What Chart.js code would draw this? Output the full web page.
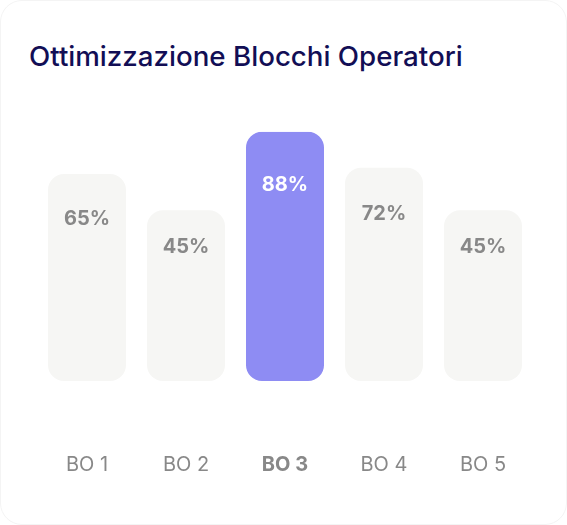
<!doctype html>
<html lang="it">
  <head>
    <meta charset="utf-8">
    <title>Ottimizzazione Blocchi Operatori</title>
    <style>
      * {
        margin: 0;
        padding: 0;
        box-sizing: border-box;
        font-family: 'Inter', sans-serif;
      }
      body {
        width: 567px;
        height: 525px;
        background: #ffffff;
        overflow: hidden;
      }
      .card {
        position: relative;
        width: 567px;
        height: 525px;
        border: 1px solid #f4f4f4;
        border-radius: 22px;
        background: #fff;
      }
      .card h2 {
        position: absolute;
        left: 28px;
        top: 38px;
        font-size: 27.7px;
        font-weight: 500;
        color: #120e55;
        white-space: nowrap;
      }
      #myChart {
        position: absolute;
        left: -1px;
        top: -1px;
      }
    </style>
  </head>
  <body>
    <div class="card">
      <h2>Ottimizzazione Blocchi Operatori</h2>
      <canvas id="myChart" width="567" height="525"></canvas>
    </div>
    <script src="https://cdn.jsdelivr.net/npm/chart.js"></script>
    <script>
    // data
    const labels = ['BO 1', 'BO 2', 'BO 3', 'BO 4', 'BO 5'];
    const percentLabels = [65, 45, 88, 72, 45];   // text shown in the bars
    const barHeights = [83, 68.5, 100, 85.5, 68.5]; // drawn height, % of tallest bar
    const activeIndex = 2;

    const GREY = '#f6f6f4';
    const PURPLE = '#8e8cf3';
    const TEXT_GREY = '#888888';

    // value labels inside bars
    const valueLabels = {
      id: 'valueLabels',
      afterDatasetsDraw(chart) {
        const ctx = chart.ctx;
        const meta = chart.getDatasetMeta(0);
        ctx.save();
        ctx.font = '700 20px Inter';
        ctx.textAlign = 'center';
        ctx.textBaseline = 'middle';
        meta.data.forEach((bar, i) => {
          const y = bar.y + (bar.base - bar.y) * 0.215;
          ctx.fillStyle = i === activeIndex ? '#ffffff' : TEXT_GREY;
          ctx.fillText(percentLabels[i] + '%', bar.x, y);
        });
        ctx.restore();
      }
    };

    const data = {
      labels: labels,
      datasets: [{
        data: barHeights,
        backgroundColor: labels.map((l, i) => i === activeIndex ? PURPLE : GREY),
        borderRadius: 16,
        borderSkipped: false,
        barPercentage: 0.788,
        categoryPercentage: 1
      }]
    };

    const config = {
      type: 'bar',
      data,
      options: {
        responsive: false,
        animation: false,
        layout: {
          padding: { left: 37.5, right: 34.5, top: 131.7, bottom: 48 }
        },
        scales: {
          y: {
            display: false,
            min: 0,
            max: 100
          },
          x: {
            // long invisible tick marks push the labels down without adding side padding
            grid: { display: true, drawOnChartArea: false, drawTicks: true, tickLength: 72, color: 'transparent' },
            border: { display: false },
            ticks: {
              padding: 0,
              color: TEXT_GREY,
              font(c) {
                return { family: 'Inter', size: 20, weight: c.index === activeIndex ? '700' : '400' };
              }
            }
          }
        },
        plugins: {
          legend: { display: false },
          tooltip: { enabled: false }
        }
      },
      plugins: [valueLabels]
    };

    const myChart = new Chart(document.getElementById('myChart'), config);
    </script>
  </body>
</html>
